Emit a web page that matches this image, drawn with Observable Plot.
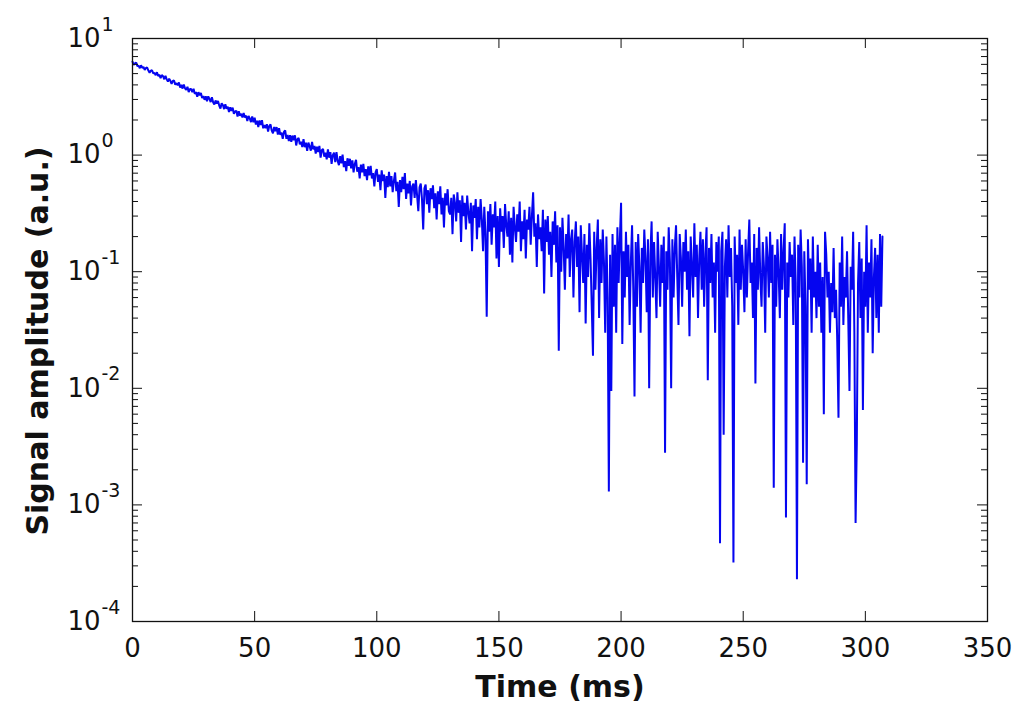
<!DOCTYPE html>
<html><head><meta charset="utf-8">
<script src="https://cdn.jsdelivr.net/npm/d3@7"></script>
<script src="https://cdn.jsdelivr.net/npm/@observablehq/plot@0.6"></script>
<style>body{margin:0;background:#fff;}</style>
</head><body><div id="chart"></div>
<script>
const sampleStep = 0.5;
const amp000to050 = [
6.32,5.95,6.12,6.23,5.80,5.85,5.56,5.89,5.60,5.70,
5.38,5.59,5.64,5.31,5.09,5.29,5.34,5.02,5.06,4.85,
5.14,4.78,4.88,4.58,4.86,4.75,4.47,4.78,4.46,4.27,
4.52,4.34,4.08,4.32,4.36,4.02,4.14,3.97,4.20,3.80,
4.00,3.72,4.02,3.74,3.63,3.85,3.47,3.68,3.68,3.46,
3.70,3.35,3.48,3.17,3.46,3.26,3.41,3.09,3.21,2.98,
3.20,2.89,3.19,3.03,2.85,3.14,2.84,2.72,2.94,2.77,
2.91,2.66,2.51,2.78,2.69,2.48,2.73,2.50,2.60,2.34,
2.57,2.39,2.55,2.26,2.37,2.40,2.14,2.38,2.18,2.26,
2.10,2.30,2.10,2.18,1.96,2.17,2.06,1.92,2.14,1.91];
const amp050to100 = [
2.09,1.83,1.97,1.74,1.98,1.81,1.99,1.70,1.81,1.70,
1.84,1.59,1.78,1.83,1.62,1.54,1.74,1.60,1.74,1.50,
1.70,1.49,1.56,1.38,1.58,1.63,1.38,1.49,1.32,1.48,
1.30,1.47,1.34,1.48,1.21,1.37,1.40,1.24,1.30,1.17,
1.37,1.17,1.28,1.09,1.28,1.19,1.09,1.30,1.12,1.20,
1.03,1.18,1.06,1.20,0.95,1.10,1.13,0.97,1.05,0.92,
1.12,0.95,1.06,0.84,1.00,1.05,0.87,1.06,0.89,0.82,
0.98,0.85,1.01,0.79,0.89,0.73,0.94,0.81,0.93,0.77,
0.90,0.71,0.84,0.91,0.72,0.79,0.63,0.83,0.71,0.84,
0.66,0.76,0.61,0.80,0.67,0.81,0.63,0.70,0.54,0.71];
const amp100to150 = [
0.76,0.59,0.68,0.50,0.74,0.60,0.68,0.43,0.66,0.53,
0.72,0.54,0.66,0.48,0.60,0.71,0.49,0.59,0.36,0.61,
0.48,0.65,0.51,0.70,0.42,0.57,0.47,0.60,0.37,0.54,
0.57,0.43,0.61,0.45,0.33,0.53,0.57,0.42,0.23,0.52,
0.56,0.38,0.50,0.32,0.52,0.42,0.55,0.35,0.47,0.28,
0.49,0.38,0.54,0.31,0.43,0.24,0.47,0.37,0.51,0.33,
0.31,0.43,0.21,0.46,0.39,0.27,0.48,0.32,0.41,0.18,
0.45,0.30,0.39,0.23,0.45,0.32,0.26,0.39,0.15,0.37,
0.29,0.42,0.19,0.36,0.24,0.42,0.28,0.15,0.36,0.21,
0.041,0.33,0.22,0.38,0.17,0.31,0.24,0.40,0.13,0.30];
const amp150to200 = [
0.11,0.35,0.22,0.30,0.16,0.38,0.25,0.20,0.33,0.14,
0.29,0.12,0.36,0.24,0.18,0.31,0.22,0.40,0.15,0.27,
0.19,0.34,0.13,0.28,0.23,0.36,0.17,0.30,0.48,0.20,
0.26,0.11,0.31,0.19,0.24,0.15,0.34,0.065,0.28,0.18,
0.30,0.14,0.22,0.09,0.27,0.17,0.33,0.12,0.25,0.021,
0.24,0.10,0.29,0.16,0.07,0.21,0.13,0.31,0.09,0.19,
0.23,0.06,0.18,0.27,0.11,0.20,0.045,0.25,0.14,0.08,
0.21,0.036,0.17,0.09,0.26,0.13,0.05,0.019,0.22,0.07,
0.16,0.28,0.04,0.19,0.08,0.23,0.12,0.03,0.20,0.06,
0.0013,0.14,0.0095,0.21,0.05,0.17,0.03,0.24,0.08,0.19];
const amp200to250 = [
0.39,0.024,0.15,0.06,0.22,0.09,0.17,0.035,0.12,0.25,
0.07,0.0085,0.18,0.05,0.21,0.11,0.03,0.16,0.08,0.23,
0.13,0.045,0.19,0.010,0.14,0.27,0.06,0.18,0.09,0.04,
0.22,0.11,0.05,0.17,0.08,0.20,0.0028,0.15,0.07,0.24,
0.12,0.010,0.19,0.06,0.16,0.25,0.09,0.035,0.21,0.13,
0.05,0.18,0.10,0.23,0.07,0.15,0.028,0.20,0.11,0.06,
0.26,0.09,0.17,0.04,0.13,0.22,0.07,0.19,0.05,0.14,
0.24,0.0117,0.16,0.08,0.21,0.06,0.12,0.03,0.18,0.10,
0.20,0.00047,0.15,0.22,0.004,0.11,0.19,0.06,0.25,0.09,
0.16,0.05,0.00032,0.20,0.08,0.14,0.035,0.23,0.07,0.17];
const amp250to300 = [
0.10,0.045,0.19,0.06,0.15,0.28,0.08,0.12,0.04,0.21,
0.011,0.16,0.07,0.24,0.09,0.05,0.18,0.11,0.03,0.20,
0.13,0.06,0.22,0.08,0.17,0.0014,0.14,0.05,0.19,0.10,
0.04,0.21,0.07,0.15,0.26,0.00078,0.12,0.06,0.18,0.09,
0.14,0.035,0.20,0.08,0.00023,0.17,0.06,0.23,0.11,0.0023,
0.15,0.05,0.0015,0.19,0.07,0.13,0.03,0.20,0.06,0.10,
0.04,0.17,0.05,0.12,0.03,0.09,0.006,0.22,0.14,0.06,
0.10,0.03,0.08,0.045,0.16,0.04,0.07,0.025,0.0056,0.12,
0.05,0.20,0.035,0.09,0.06,0.15,0.04,0.0095,0.11,0.07,
0.22,0.03,0.0007,0.0034,0.08,0.18,0.04,0.13,0.0065,0.10];
const amp300to307 = [
0.05,0.25,0.03,0.12,0.06,0.19,0.02,0.09,0.16,0.04,0.14,0.03,0.21,0.05,0.20];

const segments = [amp000to050, amp050to100, amp100to150, amp150to200, amp200to250, amp250to300, amp300to307];
const signal = segments.flat().map((v, i) => ({t: i * sampleStep, v}));

// Axes
const xDomain = [0, 350];
const yDomain = [1e-4, 10];
const xTicks = [0, 50, 100, 150, 200, 250, 300, 350];
const yTickValues = [1e-4, 1e-3, 1e-2, 1e-1, 1, 10];
const yTickExponents = ["-4", "-3", "-2", "-1", "0", "1"];
const minorMultipliers = [2, 3, 4, 5, 6, 7, 8, 9];
const yMinor = yTickValues.slice(0, -1).flatMap(d => minorMultipliers.map(m => d * m));
const yLabels = yTickValues.map((v, i) => ({v, e: yTickExponents[i]}));

const W = 1024, H = 713, mL = 132, mR = 37, mT = 38, mB = 92;
const innerW = W - mL - mR, innerH = H - mT - mB;
const majorLen = 10, minorLen = 6;
const font = "DejaVu Sans";

const chart = Plot.plot({
  width: W, height: H,
  marginLeft: mL, marginRight: mR, marginTop: mT, marginBottom: mB,
  style: {fontFamily: font, background: "white", color: "black"},
  x: {domain: xDomain, axis: null},
  y: {type: "log", domain: yDomain, axis: null},
  marks: [
    Plot.line(signal, {x: "t", y: "v", stroke: "#0505f0", strokeWidth: 2, strokeLinejoin: "miter"}),
    Plot.tickY(yTickValues, {y: d => d, insetRight: innerW - majorLen, stroke: "#111"}),
    Plot.tickY(yTickValues, {y: d => d, insetLeft: innerW - majorLen, stroke: "#111"}),
    Plot.tickY(yMinor, {y: d => d, insetRight: innerW - minorLen, stroke: "#111"}),
    Plot.tickY(yMinor, {y: d => d, insetLeft: innerW - minorLen, stroke: "#111"}),
    Plot.tickX(xTicks, {x: d => d, insetTop: innerH - majorLen, stroke: "#111"}),
    Plot.tickX(xTicks, {x: d => d, insetBottom: innerH - majorLen, stroke: "#111"}),
    Plot.frame({stroke: "#111", strokeWidth: 1.3}),
    Plot.text(yLabels, {y: "v", frameAnchor: "left", text: () => "10", textAnchor: "end", lineAnchor: "middle", dx: -32, fontSize: 26, fill: "#111"}),
    Plot.text(yLabels, {y: "v", frameAnchor: "left", text: "e", textAnchor: "start", lineAnchor: "middle", dx: -31, dy: -14, fontSize: 19, fill: "#111"}),
    Plot.text(xTicks, {x: d => d, frameAnchor: "bottom", text: d => String(d), textAnchor: "middle", lineAnchor: "middle", dy: 27, fontSize: 26, fill: "#111"}),
    Plot.text(["Time (ms)"], {text: d => d, frameAnchor: "bottom", textAnchor: "middle", lineAnchor: "middle", dy: 66, fontSize: 30, fontWeight: "bold", fill: "#111"}),
    Plot.text(["Signal amplitude (a.u.)"], {text: d => d, frameAnchor: "left", textAnchor: "middle", lineAnchor: "middle", rotate: -90, dx: -94, dy: 11, fontSize: 30, fontWeight: "bold", fill: "#111"})
  ]
});
document.getElementById("chart").appendChild(chart);
</script>
</body></html>
